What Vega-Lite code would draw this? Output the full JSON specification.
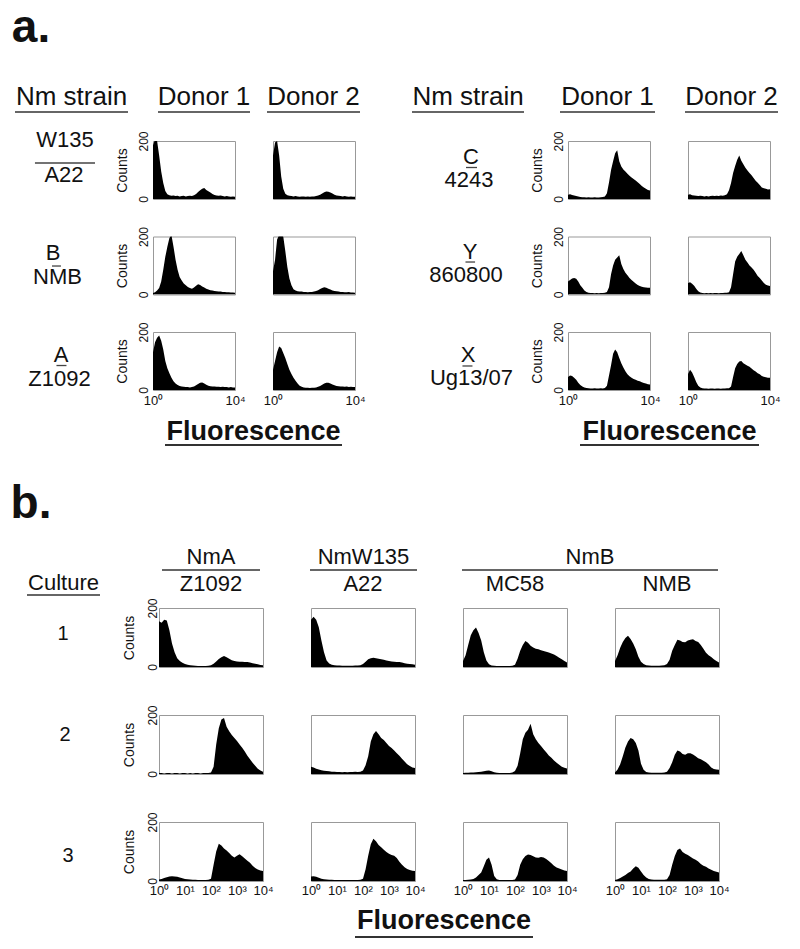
{
"$schema": "https://vega.github.io/schema/vega-lite/v6.json",
"background": "white",
"padding": 0,
"spacing": 0,
"config": {"view": {"stroke": null}, "font": "Liberation Sans", "text": {"font": "Liberation Sans", "color": "#111"}, "rule": {"color": "#333"}, "axis": {"labelFont": "Liberation Sans", "titleFont": "Liberation Sans", "labelColor": "#111", "titleColor": "#111", "grid": false, "ticks": false, "domain": false}},
"datasets": {
"a_W135_D1": [{"fl":0,"count":185},{"fl":0.1,"count":205},{"fl":0.2,"count":200},{"fl":0.3,"count":150},{"fl":0.4,"count":95},{"fl":0.5,"count":55},{"fl":0.6,"count":28},{"fl":0.7,"count":16},{"fl":0.8,"count":13},{"fl":0.9,"count":11},{"fl":1,"count":12},{"fl":1.1,"count":10},{"fl":1.2,"count":11},{"fl":1.3,"count":9},{"fl":1.4,"count":10},{"fl":1.5,"count":11},{"fl":1.6,"count":9},{"fl":1.7,"count":10},{"fl":1.8,"count":11},{"fl":1.9,"count":10},{"fl":2,"count":13},{"fl":2.1,"count":17},{"fl":2.2,"count":24},{"fl":2.3,"count":30},{"fl":2.4,"count":35},{"fl":2.5,"count":38},{"fl":2.6,"count":31},{"fl":2.7,"count":27},{"fl":2.8,"count":22},{"fl":2.9,"count":17},{"fl":3,"count":14},{"fl":3.1,"count":12},{"fl":3.2,"count":11},{"fl":3.3,"count":12},{"fl":3.4,"count":10},{"fl":3.5,"count":9},{"fl":3.6,"count":10},{"fl":3.7,"count":9},{"fl":3.8,"count":8},{"fl":3.9,"count":9},{"fl":4,"count":8}],
"a_W135_D2": [{"fl":0,"count":150},{"fl":0.1,"count":195},{"fl":0.2,"count":200},{"fl":0.3,"count":150},{"fl":0.4,"count":78},{"fl":0.5,"count":35},{"fl":0.6,"count":18},{"fl":0.7,"count":13},{"fl":0.8,"count":11},{"fl":0.9,"count":10},{"fl":1,"count":9},{"fl":1.1,"count":10},{"fl":1.2,"count":9},{"fl":1.3,"count":8},{"fl":1.4,"count":9},{"fl":1.5,"count":9},{"fl":1.6,"count":8},{"fl":1.7,"count":9},{"fl":1.8,"count":8},{"fl":1.9,"count":9},{"fl":2,"count":9},{"fl":2.1,"count":10},{"fl":2.2,"count":12},{"fl":2.3,"count":15},{"fl":2.4,"count":19},{"fl":2.5,"count":23},{"fl":2.6,"count":26},{"fl":2.7,"count":25},{"fl":2.8,"count":22},{"fl":2.9,"count":19},{"fl":3,"count":15},{"fl":3.1,"count":12},{"fl":3.2,"count":11},{"fl":3.3,"count":10},{"fl":3.4,"count":9},{"fl":3.5,"count":10},{"fl":3.6,"count":9},{"fl":3.7,"count":8},{"fl":3.8,"count":9},{"fl":3.9,"count":8},{"fl":4,"count":8}],
"a_NMB_D1": [{"fl":0,"count":5},{"fl":0.1,"count":8},{"fl":0.2,"count":14},{"fl":0.3,"count":22},{"fl":0.4,"count":45},{"fl":0.5,"count":85},{"fl":0.6,"count":130},{"fl":0.7,"count":165},{"fl":0.8,"count":195},{"fl":0.9,"count":205},{"fl":1,"count":165},{"fl":1.1,"count":120},{"fl":1.2,"count":85},{"fl":1.3,"count":60},{"fl":1.4,"count":48},{"fl":1.5,"count":38},{"fl":1.6,"count":32},{"fl":1.7,"count":26},{"fl":1.8,"count":22},{"fl":1.9,"count":20},{"fl":2,"count":24},{"fl":2.1,"count":30},{"fl":2.2,"count":35},{"fl":2.3,"count":33},{"fl":2.4,"count":28},{"fl":2.5,"count":24},{"fl":2.6,"count":20},{"fl":2.7,"count":17},{"fl":2.8,"count":15},{"fl":2.9,"count":14},{"fl":3,"count":12},{"fl":3.1,"count":11},{"fl":3.2,"count":10},{"fl":3.3,"count":10},{"fl":3.4,"count":9},{"fl":3.5,"count":9},{"fl":3.6,"count":8},{"fl":3.7,"count":8},{"fl":3.8,"count":7},{"fl":3.9,"count":7},{"fl":4,"count":6}],
"a_NMB_D2": [{"fl":0,"count":80},{"fl":0.1,"count":120},{"fl":0.2,"count":190},{"fl":0.3,"count":205},{"fl":0.4,"count":205},{"fl":0.5,"count":200},{"fl":0.6,"count":150},{"fl":0.7,"count":95},{"fl":0.8,"count":55},{"fl":0.9,"count":32},{"fl":1,"count":18},{"fl":1.1,"count":14},{"fl":1.2,"count":11},{"fl":1.3,"count":10},{"fl":1.4,"count":10},{"fl":1.5,"count":9},{"fl":1.6,"count":9},{"fl":1.7,"count":8},{"fl":1.8,"count":9},{"fl":1.9,"count":9},{"fl":2,"count":10},{"fl":2.1,"count":12},{"fl":2.2,"count":15},{"fl":2.3,"count":19},{"fl":2.4,"count":22},{"fl":2.5,"count":25},{"fl":2.6,"count":23},{"fl":2.7,"count":20},{"fl":2.8,"count":17},{"fl":2.9,"count":14},{"fl":3,"count":12},{"fl":3.1,"count":11},{"fl":3.2,"count":10},{"fl":3.3,"count":9},{"fl":3.4,"count":9},{"fl":3.5,"count":8},{"fl":3.6,"count":8},{"fl":3.7,"count":9},{"fl":3.8,"count":7},{"fl":3.9,"count":7},{"fl":4,"count":6}],
"a_Z1092_D1": [{"fl":0,"count":130},{"fl":0.1,"count":165},{"fl":0.2,"count":180},{"fl":0.3,"count":188},{"fl":0.4,"count":170},{"fl":0.5,"count":140},{"fl":0.6,"count":100},{"fl":0.7,"count":75},{"fl":0.8,"count":58},{"fl":0.9,"count":42},{"fl":1,"count":30},{"fl":1.1,"count":22},{"fl":1.2,"count":17},{"fl":1.3,"count":14},{"fl":1.4,"count":12},{"fl":1.5,"count":11},{"fl":1.6,"count":10},{"fl":1.7,"count":10},{"fl":1.8,"count":9},{"fl":1.9,"count":10},{"fl":2,"count":12},{"fl":2.1,"count":16},{"fl":2.2,"count":21},{"fl":2.3,"count":25},{"fl":2.4,"count":26},{"fl":2.5,"count":22},{"fl":2.6,"count":18},{"fl":2.7,"count":15},{"fl":2.8,"count":13},{"fl":2.9,"count":12},{"fl":3,"count":12},{"fl":3.1,"count":11},{"fl":3.2,"count":11},{"fl":3.3,"count":10},{"fl":3.4,"count":11},{"fl":3.5,"count":10},{"fl":3.6,"count":10},{"fl":3.7,"count":9},{"fl":3.8,"count":10},{"fl":3.9,"count":9},{"fl":4,"count":9}],
"a_Z1092_D2": [{"fl":0,"count":70},{"fl":0.1,"count":100},{"fl":0.2,"count":130},{"fl":0.3,"count":150},{"fl":0.4,"count":145},{"fl":0.5,"count":128},{"fl":0.6,"count":110},{"fl":0.7,"count":90},{"fl":0.8,"count":70},{"fl":0.9,"count":55},{"fl":1,"count":42},{"fl":1.1,"count":32},{"fl":1.2,"count":22},{"fl":1.3,"count":15},{"fl":1.4,"count":11},{"fl":1.5,"count":9},{"fl":1.6,"count":8},{"fl":1.7,"count":8},{"fl":1.8,"count":7},{"fl":1.9,"count":8},{"fl":2,"count":8},{"fl":2.1,"count":9},{"fl":2.2,"count":11},{"fl":2.3,"count":14},{"fl":2.4,"count":18},{"fl":2.5,"count":22},{"fl":2.6,"count":25},{"fl":2.7,"count":25},{"fl":2.8,"count":22},{"fl":2.9,"count":19},{"fl":3,"count":16},{"fl":3.1,"count":14},{"fl":3.2,"count":13},{"fl":3.3,"count":12},{"fl":3.4,"count":12},{"fl":3.5,"count":11},{"fl":3.6,"count":12},{"fl":3.7,"count":10},{"fl":3.8,"count":11},{"fl":3.9,"count":10},{"fl":4,"count":10}],
"a_4243_D1": [{"fl":0,"count":15},{"fl":0.1,"count":16},{"fl":0.2,"count":14},{"fl":0.3,"count":12},{"fl":0.4,"count":10},{"fl":0.5,"count":9},{"fl":0.6,"count":7},{"fl":0.7,"count":6},{"fl":0.8,"count":6},{"fl":0.9,"count":5},{"fl":1,"count":6},{"fl":1.1,"count":5},{"fl":1.2,"count":5},{"fl":1.3,"count":6},{"fl":1.4,"count":5},{"fl":1.5,"count":5},{"fl":1.6,"count":6},{"fl":1.7,"count":7},{"fl":1.8,"count":9},{"fl":1.9,"count":20},{"fl":2,"count":57},{"fl":2.1,"count":100},{"fl":2.2,"count":130},{"fl":2.3,"count":158},{"fl":2.4,"count":168},{"fl":2.5,"count":130},{"fl":2.6,"count":112},{"fl":2.7,"count":102},{"fl":2.8,"count":95},{"fl":2.9,"count":87},{"fl":3,"count":80},{"fl":3.1,"count":74},{"fl":3.2,"count":69},{"fl":3.3,"count":64},{"fl":3.4,"count":58},{"fl":3.5,"count":52},{"fl":3.6,"count":45},{"fl":3.7,"count":40},{"fl":3.8,"count":35},{"fl":3.9,"count":31},{"fl":4,"count":29}],
"a_4243_D2": [{"fl":0,"count":15},{"fl":0.1,"count":16},{"fl":0.2,"count":13},{"fl":0.3,"count":12},{"fl":0.4,"count":11},{"fl":0.5,"count":10},{"fl":0.6,"count":11},{"fl":0.7,"count":10},{"fl":0.8,"count":9},{"fl":0.9,"count":10},{"fl":1,"count":9},{"fl":1.1,"count":10},{"fl":1.2,"count":11},{"fl":1.3,"count":10},{"fl":1.4,"count":11},{"fl":1.5,"count":10},{"fl":1.6,"count":12},{"fl":1.7,"count":11},{"fl":1.8,"count":13},{"fl":1.9,"count":16},{"fl":2,"count":30},{"fl":2.1,"count":55},{"fl":2.2,"count":90},{"fl":2.3,"count":114},{"fl":2.4,"count":135},{"fl":2.5,"count":150},{"fl":2.6,"count":132},{"fl":2.7,"count":120},{"fl":2.8,"count":108},{"fl":2.9,"count":98},{"fl":3,"count":90},{"fl":3.1,"count":82},{"fl":3.2,"count":72},{"fl":3.3,"count":63},{"fl":3.4,"count":56},{"fl":3.5,"count":48},{"fl":3.6,"count":40},{"fl":3.7,"count":37},{"fl":3.8,"count":35},{"fl":3.9,"count":33},{"fl":4,"count":34}],
"a_860800_D1": [{"fl":0,"count":45},{"fl":0.1,"count":50},{"fl":0.2,"count":55},{"fl":0.3,"count":57},{"fl":0.4,"count":54},{"fl":0.5,"count":45},{"fl":0.6,"count":32},{"fl":0.7,"count":23},{"fl":0.8,"count":14},{"fl":0.9,"count":9},{"fl":1,"count":6},{"fl":1.1,"count":5},{"fl":1.2,"count":5},{"fl":1.3,"count":4},{"fl":1.4,"count":5},{"fl":1.5,"count":4},{"fl":1.6,"count":5},{"fl":1.7,"count":5},{"fl":1.8,"count":6},{"fl":1.9,"count":9},{"fl":2,"count":25},{"fl":2.1,"count":70},{"fl":2.2,"count":100},{"fl":2.3,"count":120},{"fl":2.4,"count":128},{"fl":2.5,"count":135},{"fl":2.6,"count":105},{"fl":2.7,"count":88},{"fl":2.8,"count":75},{"fl":2.9,"count":66},{"fl":3,"count":57},{"fl":3.1,"count":50},{"fl":3.2,"count":44},{"fl":3.3,"count":38},{"fl":3.4,"count":33},{"fl":3.5,"count":29},{"fl":3.6,"count":27},{"fl":3.7,"count":25},{"fl":3.8,"count":24},{"fl":3.9,"count":23},{"fl":4,"count":23}],
"a_860800_D2": [{"fl":0,"count":40},{"fl":0.1,"count":42},{"fl":0.2,"count":37},{"fl":0.3,"count":30},{"fl":0.4,"count":20},{"fl":0.5,"count":11},{"fl":0.6,"count":7},{"fl":0.7,"count":5},{"fl":0.8,"count":4},{"fl":0.9,"count":5},{"fl":1,"count":4},{"fl":1.1,"count":5},{"fl":1.2,"count":4},{"fl":1.3,"count":5},{"fl":1.4,"count":5},{"fl":1.5,"count":4},{"fl":1.6,"count":5},{"fl":1.7,"count":5},{"fl":1.8,"count":6},{"fl":1.9,"count":6},{"fl":2,"count":8},{"fl":2.1,"count":25},{"fl":2.2,"count":70},{"fl":2.3,"count":114},{"fl":2.4,"count":130},{"fl":2.5,"count":140},{"fl":2.6,"count":150},{"fl":2.7,"count":135},{"fl":2.8,"count":120},{"fl":2.9,"count":110},{"fl":3,"count":100},{"fl":3.1,"count":93},{"fl":3.2,"count":85},{"fl":3.3,"count":75},{"fl":3.4,"count":64},{"fl":3.5,"count":57},{"fl":3.6,"count":48},{"fl":3.7,"count":40},{"fl":3.8,"count":34},{"fl":3.9,"count":31},{"fl":4,"count":29}],
"a_Ug13_D1": [{"fl":0,"count":45},{"fl":0.1,"count":50},{"fl":0.2,"count":48},{"fl":0.3,"count":42},{"fl":0.4,"count":35},{"fl":0.5,"count":25},{"fl":0.6,"count":17},{"fl":0.7,"count":12},{"fl":0.8,"count":9},{"fl":0.9,"count":7},{"fl":1,"count":6},{"fl":1.1,"count":5},{"fl":1.2,"count":5},{"fl":1.3,"count":6},{"fl":1.4,"count":5},{"fl":1.5,"count":5},{"fl":1.6,"count":6},{"fl":1.7,"count":5},{"fl":1.8,"count":7},{"fl":1.9,"count":15},{"fl":2,"count":50},{"fl":2.1,"count":85},{"fl":2.2,"count":125},{"fl":2.3,"count":140},{"fl":2.4,"count":130},{"fl":2.5,"count":110},{"fl":2.6,"count":92},{"fl":2.7,"count":78},{"fl":2.8,"count":65},{"fl":2.9,"count":54},{"fl":3,"count":47},{"fl":3.1,"count":42},{"fl":3.2,"count":38},{"fl":3.3,"count":35},{"fl":3.4,"count":32},{"fl":3.5,"count":30},{"fl":3.6,"count":27},{"fl":3.7,"count":24},{"fl":3.8,"count":22},{"fl":3.9,"count":20},{"fl":4,"count":19}],
"a_Ug13_D2": [{"fl":0,"count":55},{"fl":0.1,"count":70},{"fl":0.2,"count":60},{"fl":0.3,"count":45},{"fl":0.4,"count":28},{"fl":0.5,"count":15},{"fl":0.6,"count":9},{"fl":0.7,"count":6},{"fl":0.8,"count":5},{"fl":0.9,"count":5},{"fl":1,"count":4},{"fl":1.1,"count":5},{"fl":1.2,"count":5},{"fl":1.3,"count":4},{"fl":1.4,"count":5},{"fl":1.5,"count":5},{"fl":1.6,"count":4},{"fl":1.7,"count":5},{"fl":1.8,"count":5},{"fl":1.9,"count":6},{"fl":2,"count":6},{"fl":2.1,"count":12},{"fl":2.2,"count":45},{"fl":2.3,"count":75},{"fl":2.4,"count":90},{"fl":2.5,"count":98},{"fl":2.6,"count":100},{"fl":2.7,"count":92},{"fl":2.8,"count":88},{"fl":2.9,"count":84},{"fl":3,"count":80},{"fl":3.1,"count":74},{"fl":3.2,"count":68},{"fl":3.3,"count":64},{"fl":3.4,"count":58},{"fl":3.5,"count":54},{"fl":3.6,"count":48},{"fl":3.7,"count":46},{"fl":3.8,"count":44},{"fl":3.9,"count":42},{"fl":4,"count":42}],
"b_Z1092_c1": [{"fl":0,"count":155},{"fl":0.1,"count":150},{"fl":0.2,"count":160},{"fl":0.3,"count":158},{"fl":0.4,"count":125},{"fl":0.5,"count":80},{"fl":0.6,"count":50},{"fl":0.7,"count":30},{"fl":0.8,"count":20},{"fl":0.9,"count":14},{"fl":1,"count":10},{"fl":1.1,"count":8},{"fl":1.2,"count":6},{"fl":1.3,"count":5},{"fl":1.4,"count":4},{"fl":1.5,"count":3},{"fl":1.6,"count":3},{"fl":1.7,"count":3},{"fl":1.8,"count":3},{"fl":1.9,"count":4},{"fl":2,"count":6},{"fl":2.1,"count":11},{"fl":2.2,"count":19},{"fl":2.3,"count":27},{"fl":2.4,"count":33},{"fl":2.5,"count":37},{"fl":2.6,"count":33},{"fl":2.7,"count":28},{"fl":2.8,"count":23},{"fl":2.9,"count":20},{"fl":3,"count":19},{"fl":3.1,"count":18},{"fl":3.2,"count":18},{"fl":3.3,"count":17},{"fl":3.4,"count":17},{"fl":3.5,"count":15},{"fl":3.6,"count":13},{"fl":3.7,"count":11},{"fl":3.8,"count":9},{"fl":3.9,"count":7},{"fl":4,"count":6}],
"b_A22_c1": [{"fl":0,"count":160},{"fl":0.1,"count":170},{"fl":0.2,"count":160},{"fl":0.3,"count":135},{"fl":0.4,"count":90},{"fl":0.5,"count":50},{"fl":0.6,"count":22},{"fl":0.7,"count":12},{"fl":0.8,"count":8},{"fl":0.9,"count":6},{"fl":1,"count":5},{"fl":1.1,"count":5},{"fl":1.2,"count":4},{"fl":1.3,"count":4},{"fl":1.4,"count":4},{"fl":1.5,"count":4},{"fl":1.6,"count":4},{"fl":1.7,"count":5},{"fl":1.8,"count":5},{"fl":1.9,"count":6},{"fl":2,"count":10},{"fl":2.1,"count":18},{"fl":2.2,"count":26},{"fl":2.3,"count":30},{"fl":2.4,"count":31},{"fl":2.5,"count":30},{"fl":2.6,"count":28},{"fl":2.7,"count":26},{"fl":2.8,"count":25},{"fl":2.9,"count":22},{"fl":3,"count":20},{"fl":3.1,"count":19},{"fl":3.2,"count":18},{"fl":3.3,"count":17},{"fl":3.4,"count":17},{"fl":3.5,"count":15},{"fl":3.6,"count":13},{"fl":3.7,"count":11},{"fl":3.8,"count":10},{"fl":3.9,"count":9},{"fl":4,"count":8}],
"b_MC58_c1": [{"fl":0,"count":20},{"fl":0.1,"count":40},{"fl":0.2,"count":75},{"fl":0.3,"count":108},{"fl":0.4,"count":125},{"fl":0.5,"count":134},{"fl":0.6,"count":115},{"fl":0.7,"count":90},{"fl":0.8,"count":50},{"fl":0.9,"count":22},{"fl":1,"count":9},{"fl":1.1,"count":5},{"fl":1.2,"count":4},{"fl":1.3,"count":3},{"fl":1.4,"count":3},{"fl":1.5,"count":3},{"fl":1.6,"count":3},{"fl":1.7,"count":3},{"fl":1.8,"count":3},{"fl":1.9,"count":4},{"fl":2,"count":8},{"fl":2.1,"count":28},{"fl":2.2,"count":55},{"fl":2.3,"count":75},{"fl":2.4,"count":88},{"fl":2.5,"count":82},{"fl":2.6,"count":72},{"fl":2.7,"count":66},{"fl":2.8,"count":62},{"fl":2.9,"count":60},{"fl":3,"count":57},{"fl":3.1,"count":54},{"fl":3.2,"count":52},{"fl":3.3,"count":49},{"fl":3.4,"count":46},{"fl":3.5,"count":42},{"fl":3.6,"count":37},{"fl":3.7,"count":31},{"fl":3.8,"count":26},{"fl":3.9,"count":20},{"fl":4,"count":15}],
"b_NMB_c1": [{"fl":0,"count":20},{"fl":0.1,"count":40},{"fl":0.2,"count":65},{"fl":0.3,"count":85},{"fl":0.4,"count":98},{"fl":0.5,"count":106},{"fl":0.6,"count":95},{"fl":0.7,"count":80},{"fl":0.8,"count":60},{"fl":0.9,"count":35},{"fl":1,"count":18},{"fl":1.1,"count":10},{"fl":1.2,"count":6},{"fl":1.3,"count":5},{"fl":1.4,"count":4},{"fl":1.5,"count":4},{"fl":1.6,"count":4},{"fl":1.7,"count":4},{"fl":1.8,"count":5},{"fl":1.9,"count":6},{"fl":2,"count":10},{"fl":2.1,"count":25},{"fl":2.2,"count":55},{"fl":2.3,"count":75},{"fl":2.4,"count":92},{"fl":2.5,"count":90},{"fl":2.6,"count":85},{"fl":2.7,"count":84},{"fl":2.8,"count":90},{"fl":2.9,"count":92},{"fl":3,"count":94},{"fl":3.1,"count":88},{"fl":3.2,"count":85},{"fl":3.3,"count":75},{"fl":3.4,"count":62},{"fl":3.5,"count":48},{"fl":3.6,"count":40},{"fl":3.7,"count":34},{"fl":3.8,"count":26},{"fl":3.9,"count":20},{"fl":4,"count":15}],
"b_Z1092_c2": [{"fl":0,"count":3},{"fl":0.1,"count":3},{"fl":0.2,"count":2},{"fl":0.3,"count":3},{"fl":0.4,"count":3},{"fl":0.5,"count":2},{"fl":0.6,"count":3},{"fl":0.7,"count":3},{"fl":0.8,"count":2},{"fl":0.9,"count":3},{"fl":1,"count":3},{"fl":1.1,"count":2},{"fl":1.2,"count":3},{"fl":1.3,"count":2},{"fl":1.4,"count":3},{"fl":1.5,"count":3},{"fl":1.6,"count":2},{"fl":1.7,"count":3},{"fl":1.8,"count":3},{"fl":1.9,"count":3},{"fl":2,"count":5},{"fl":2.1,"count":25},{"fl":2.2,"count":100},{"fl":2.3,"count":155},{"fl":2.4,"count":185},{"fl":2.5,"count":190},{"fl":2.6,"count":160},{"fl":2.7,"count":145},{"fl":2.8,"count":132},{"fl":2.9,"count":122},{"fl":3,"count":112},{"fl":3.1,"count":100},{"fl":3.2,"count":89},{"fl":3.3,"count":76},{"fl":3.4,"count":62},{"fl":3.5,"count":50},{"fl":3.6,"count":38},{"fl":3.7,"count":28},{"fl":3.8,"count":18},{"fl":3.9,"count":12},{"fl":4,"count":8}],
"b_A22_c2": [{"fl":0,"count":25},{"fl":0.1,"count":22},{"fl":0.2,"count":18},{"fl":0.3,"count":15},{"fl":0.4,"count":13},{"fl":0.5,"count":11},{"fl":0.6,"count":10},{"fl":0.7,"count":9},{"fl":0.8,"count":8},{"fl":0.9,"count":8},{"fl":1,"count":7},{"fl":1.1,"count":7},{"fl":1.2,"count":6},{"fl":1.3,"count":7},{"fl":1.4,"count":6},{"fl":1.5,"count":7},{"fl":1.6,"count":7},{"fl":1.7,"count":8},{"fl":1.8,"count":7},{"fl":1.9,"count":8},{"fl":2,"count":12},{"fl":2.1,"count":30},{"fl":2.2,"count":60},{"fl":2.3,"count":110},{"fl":2.4,"count":135},{"fl":2.5,"count":146},{"fl":2.6,"count":135},{"fl":2.7,"count":122},{"fl":2.8,"count":115},{"fl":2.9,"count":105},{"fl":3,"count":95},{"fl":3.1,"count":88},{"fl":3.2,"count":80},{"fl":3.3,"count":70},{"fl":3.4,"count":62},{"fl":3.5,"count":52},{"fl":3.6,"count":42},{"fl":3.7,"count":33},{"fl":3.8,"count":27},{"fl":3.9,"count":22},{"fl":4,"count":20}],
"b_MC58_c2": [{"fl":0,"count":3},{"fl":0.1,"count":4},{"fl":0.2,"count":4},{"fl":0.3,"count":5},{"fl":0.4,"count":5},{"fl":0.5,"count":6},{"fl":0.6,"count":7},{"fl":0.7,"count":8},{"fl":0.8,"count":9},{"fl":0.9,"count":11},{"fl":1,"count":12},{"fl":1.1,"count":9},{"fl":1.2,"count":6},{"fl":1.3,"count":4},{"fl":1.4,"count":3},{"fl":1.5,"count":3},{"fl":1.6,"count":3},{"fl":1.7,"count":3},{"fl":1.8,"count":3},{"fl":1.9,"count":5},{"fl":2,"count":10},{"fl":2.1,"count":28},{"fl":2.2,"count":70},{"fl":2.3,"count":118},{"fl":2.4,"count":140},{"fl":2.5,"count":150},{"fl":2.6,"count":170},{"fl":2.7,"count":135},{"fl":2.8,"count":118},{"fl":2.9,"count":105},{"fl":3,"count":95},{"fl":3.1,"count":84},{"fl":3.2,"count":74},{"fl":3.3,"count":63},{"fl":3.4,"count":55},{"fl":3.5,"count":46},{"fl":3.6,"count":38},{"fl":3.7,"count":31},{"fl":3.8,"count":25},{"fl":3.9,"count":21},{"fl":4,"count":19}],
"b_NMB_c2": [{"fl":0,"count":5},{"fl":0.1,"count":15},{"fl":0.2,"count":33},{"fl":0.3,"count":60},{"fl":0.4,"count":90},{"fl":0.5,"count":110},{"fl":0.6,"count":122},{"fl":0.7,"count":118},{"fl":0.8,"count":105},{"fl":0.9,"count":80},{"fl":1,"count":35},{"fl":1.1,"count":14},{"fl":1.2,"count":7},{"fl":1.3,"count":5},{"fl":1.4,"count":4},{"fl":1.5,"count":4},{"fl":1.6,"count":4},{"fl":1.7,"count":4},{"fl":1.8,"count":4},{"fl":1.9,"count":5},{"fl":2,"count":8},{"fl":2.1,"count":20},{"fl":2.2,"count":40},{"fl":2.3,"count":65},{"fl":2.4,"count":80},{"fl":2.5,"count":76},{"fl":2.6,"count":68},{"fl":2.7,"count":65},{"fl":2.8,"count":70},{"fl":2.9,"count":70},{"fl":3,"count":66},{"fl":3.1,"count":60},{"fl":3.2,"count":53},{"fl":3.3,"count":50},{"fl":3.4,"count":45},{"fl":3.5,"count":40},{"fl":3.6,"count":32},{"fl":3.7,"count":22},{"fl":3.8,"count":17},{"fl":3.9,"count":15},{"fl":4,"count":14}],
"b_Z1092_c3": [{"fl":0,"count":5},{"fl":0.1,"count":7},{"fl":0.2,"count":10},{"fl":0.3,"count":13},{"fl":0.4,"count":15},{"fl":0.5,"count":16},{"fl":0.6,"count":15},{"fl":0.7,"count":14},{"fl":0.8,"count":12},{"fl":0.9,"count":9},{"fl":1,"count":7},{"fl":1.1,"count":6},{"fl":1.2,"count":5},{"fl":1.3,"count":4},{"fl":1.4,"count":4},{"fl":1.5,"count":3},{"fl":1.6,"count":3},{"fl":1.7,"count":3},{"fl":1.8,"count":3},{"fl":1.9,"count":4},{"fl":2,"count":8},{"fl":2.1,"count":55},{"fl":2.2,"count":100},{"fl":2.3,"count":126},{"fl":2.4,"count":120},{"fl":2.5,"count":110},{"fl":2.6,"count":103},{"fl":2.7,"count":95},{"fl":2.8,"count":86},{"fl":2.9,"count":80},{"fl":3,"count":86},{"fl":3.1,"count":91},{"fl":3.2,"count":84},{"fl":3.3,"count":76},{"fl":3.4,"count":69},{"fl":3.5,"count":62},{"fl":3.6,"count":52},{"fl":3.7,"count":44},{"fl":3.8,"count":39},{"fl":3.9,"count":36},{"fl":4,"count":34}],
"b_A22_c3": [{"fl":0,"count":15},{"fl":0.1,"count":16},{"fl":0.2,"count":14},{"fl":0.3,"count":11},{"fl":0.4,"count":8},{"fl":0.5,"count":6},{"fl":0.6,"count":5},{"fl":0.7,"count":4},{"fl":0.8,"count":4},{"fl":0.9,"count":3},{"fl":1,"count":3},{"fl":1.1,"count":3},{"fl":1.2,"count":3},{"fl":1.3,"count":3},{"fl":1.4,"count":3},{"fl":1.5,"count":3},{"fl":1.6,"count":3},{"fl":1.7,"count":3},{"fl":1.8,"count":3},{"fl":1.9,"count":4},{"fl":2,"count":8},{"fl":2.1,"count":40},{"fl":2.2,"count":86},{"fl":2.3,"count":125},{"fl":2.4,"count":143},{"fl":2.5,"count":135},{"fl":2.6,"count":122},{"fl":2.7,"count":114},{"fl":2.8,"count":106},{"fl":2.9,"count":98},{"fl":3,"count":92},{"fl":3.1,"count":88},{"fl":3.2,"count":86},{"fl":3.3,"count":78},{"fl":3.4,"count":65},{"fl":3.5,"count":55},{"fl":3.6,"count":47},{"fl":3.7,"count":41},{"fl":3.8,"count":37},{"fl":3.9,"count":35},{"fl":4,"count":34}],
"b_MC58_c3": [{"fl":0,"count":3},{"fl":0.1,"count":3},{"fl":0.2,"count":4},{"fl":0.3,"count":5},{"fl":0.4,"count":7},{"fl":0.5,"count":12},{"fl":0.6,"count":20},{"fl":0.7,"count":29},{"fl":0.8,"count":50},{"fl":0.9,"count":72},{"fl":1,"count":80},{"fl":1.1,"count":55},{"fl":1.2,"count":17},{"fl":1.3,"count":6},{"fl":1.4,"count":3},{"fl":1.5,"count":3},{"fl":1.6,"count":3},{"fl":1.7,"count":3},{"fl":1.8,"count":3},{"fl":1.9,"count":3},{"fl":2,"count":5},{"fl":2.1,"count":20},{"fl":2.2,"count":55},{"fl":2.3,"count":74},{"fl":2.4,"count":85},{"fl":2.5,"count":90},{"fl":2.6,"count":88},{"fl":2.7,"count":84},{"fl":2.8,"count":80},{"fl":2.9,"count":79},{"fl":3,"count":81},{"fl":3.1,"count":80},{"fl":3.2,"count":75},{"fl":3.3,"count":68},{"fl":3.4,"count":60},{"fl":3.5,"count":52},{"fl":3.6,"count":46},{"fl":3.7,"count":42},{"fl":3.8,"count":39},{"fl":3.9,"count":36},{"fl":4,"count":34}],
"b_NMB_c3": [{"fl":0,"count":3},{"fl":0.1,"count":6},{"fl":0.2,"count":10},{"fl":0.3,"count":15},{"fl":0.4,"count":20},{"fl":0.5,"count":27},{"fl":0.6,"count":32},{"fl":0.7,"count":42},{"fl":0.8,"count":50},{"fl":0.9,"count":45},{"fl":1,"count":32},{"fl":1.1,"count":20},{"fl":1.2,"count":12},{"fl":1.3,"count":7},{"fl":1.4,"count":5},{"fl":1.5,"count":4},{"fl":1.6,"count":4},{"fl":1.7,"count":4},{"fl":1.8,"count":4},{"fl":1.9,"count":4},{"fl":2,"count":6},{"fl":2.1,"count":20},{"fl":2.2,"count":55},{"fl":2.3,"count":85},{"fl":2.4,"count":105},{"fl":2.5,"count":110},{"fl":2.6,"count":98},{"fl":2.7,"count":92},{"fl":2.8,"count":88},{"fl":2.9,"count":82},{"fl":3,"count":76},{"fl":3.1,"count":72},{"fl":3.2,"count":66},{"fl":3.3,"count":58},{"fl":3.4,"count":52},{"fl":3.5,"count":48},{"fl":3.6,"count":42},{"fl":3.7,"count":38},{"fl":3.8,"count":34},{"fl":3.9,"count":31},{"fl":4,"count":29}]
},
"vconcat": [
{"width": 62, "height": 52, "data": {"values": [{"label": "a."}]}, "mark": {"type": "text", "fontSize": 46, "fontWeight": "bold", "baseline": "alphabetic", "dy": 16}, "encoding": {"text": {"field": "label"}}},
{"spacing": 0, "bounds": "flush", "hconcat": [
 {"width": 15, "height": 60, "mark": "text", "encoding": {"text": {"value": ""}}},
 {"width": 113, "height": 60, "data": {"values": [{"label": "Nm strain"}]}, "layer": [{"mark": {"type": "text", "fontSize": 26, "baseline": "alphabetic", "dy": 23}, "encoding": {"text": {"field": "label"}}}, {"mark": {"type": "rule", "strokeWidth": 1.5}, "encoding": {"y": {"value": "height"}}}]},
 {"width": 30, "height": 60, "mark": "text", "encoding": {"text": {"value": ""}}},
 {"width": 92, "height": 60, "data": {"values": [{"label": "Donor 1"}]}, "layer": [{"mark": {"type": "text", "fontSize": 26, "baseline": "alphabetic", "dy": 23}, "encoding": {"text": {"field": "label"}}}, {"mark": {"type": "rule", "strokeWidth": 1.5}, "encoding": {"y": {"value": "height"}}}]},
 {"width": 17, "height": 60, "mark": "text", "encoding": {"text": {"value": ""}}},
 {"width": 93, "height": 60, "data": {"values": [{"label": "Donor 2"}]}, "layer": [{"mark": {"type": "text", "fontSize": 26, "baseline": "alphabetic", "dy": 23}, "encoding": {"text": {"field": "label"}}}, {"mark": {"type": "rule", "strokeWidth": 1.5}, "encoding": {"y": {"value": "height"}}}]},
 {"width": 52, "height": 60, "mark": "text", "encoding": {"text": {"value": ""}}},
 {"width": 112, "height": 60, "data": {"values": [{"label": "Nm strain"}]}, "layer": [{"mark": {"type": "text", "fontSize": 26, "baseline": "alphabetic", "dy": 23}, "encoding": {"text": {"field": "label"}}}, {"mark": {"type": "rule", "strokeWidth": 1.5}, "encoding": {"y": {"value": "height"}}}]},
 {"width": 36, "height": 60, "mark": "text", "encoding": {"text": {"value": ""}}},
 {"width": 95, "height": 60, "data": {"values": [{"label": "Donor 1"}]}, "layer": [{"mark": {"type": "text", "fontSize": 26, "baseline": "alphabetic", "dy": 23}, "encoding": {"text": {"field": "label"}}}, {"mark": {"type": "rule", "strokeWidth": 1.5}, "encoding": {"y": {"value": "height"}}}]},
 {"width": 30, "height": 60, "mark": "text", "encoding": {"text": {"value": ""}}},
 {"width": 93, "height": 60, "data": {"values": [{"label": "Donor 2"}]}, "layer": [{"mark": {"type": "text", "fontSize": 26, "baseline": "alphabetic", "dy": 23}, "encoding": {"text": {"field": "label"}}}, {"mark": {"type": "rule", "strokeWidth": 1.5}, "encoding": {"y": {"value": "height"}}}]}
]},
{"width": 1, "height": 16, "mark": "text", "encoding": {"text": {"value": ""}}},
{"columns": 6, "spacing": {"row": 37.5, "column": 38}, "bounds": "flush", "align": "each", "concat": [
 {"width": 115, "height": 58, "data": {"values": [{"serogroup": "W135", "strain": "A22"}]}, "layer": [
  {"mark": {"type": "text", "fontSize": 22, "baseline": "alphabetic", "dx": 7.5, "dy": -23}, "encoding": {"text": {"field": "serogroup"}}},
  {"mark": {"type": "rule", "strokeWidth": 1.3, "color": "#444"}, "encoding": {"x": {"datum": 0.304, "scale": {"domain": [0, 1]}, "axis": null}, "x2": {"datum": 0.826}, "y": {"datum": 0.621, "scale": {"domain": [0, 1]}, "axis": null}}},
  {"mark": {"type": "text", "fontSize": 22, "baseline": "alphabetic", "dx": 6.5, "dy": 12}, "encoding": {"text": {"field": "strain"}}}]},
 {"width": 82, "height": 58, "view": {"stroke": "#999"}, "data": {"name": "a_W135_D1"}, "mark": {"type": "area", "color": "#000", "clip": true}, "encoding": {"x": {"field": "fl", "type": "quantitative", "scale": {"domain": [0, 4], "nice": false}, "axis": null}, "y": {"field": "count", "type": "quantitative", "scale": {"domain": [0, 200], "nice": false}, "axis": {"title": "Counts", "values": [0, 200], "labelAngle": 270, "labelAlign": "center", "labelBaseline": "alphabetic", "labelPadding": 6, "labelFontSize": 12, "titleFontSize": 14, "titleFontWeight": "normal", "titlePadding": 8}}}},
 {"width": 82, "height": 58, "view": {"stroke": "#999"}, "data": {"name": "a_W135_D2"}, "mark": {"type": "area", "color": "#000", "clip": true}, "encoding": {"x": {"field": "fl", "type": "quantitative", "scale": {"domain": [0, 4], "nice": false}, "axis": null}, "y": {"field": "count", "type": "quantitative", "scale": {"domain": [0, 200], "nice": false}, "axis": null}}},
 {"width": 137, "height": 58, "data": {"values": [{"serogroup": "C", "strain": "4243"}]}, "layer": [
  {"mark": {"type": "text", "fontSize": 22, "baseline": "alphabetic", "dx": 9.5, "dy": -6.5}, "encoding": {"text": {"field": "serogroup"}}},
  {"mark": {"type": "rule", "strokeWidth": 1.3, "color": "#444"}, "encoding": {"x": {"datum": 0.533, "scale": {"domain": [0, 1]}, "axis": null}, "x2": {"datum": 0.613}, "y": {"datum": 0.543, "scale": {"domain": [0, 1]}, "axis": null}}},
  {"mark": {"type": "text", "fontSize": 22, "baseline": "alphabetic", "dx": 7.5, "dy": 16.5}, "encoding": {"text": {"field": "strain"}}}]},
 {"width": 82, "height": 58, "view": {"stroke": "#999"}, "data": {"name": "a_4243_D1"}, "mark": {"type": "area", "color": "#000", "clip": true}, "encoding": {"x": {"field": "fl", "type": "quantitative", "scale": {"domain": [0, 4], "nice": false}, "axis": null}, "y": {"field": "count", "type": "quantitative", "scale": {"domain": [0, 200], "nice": false}, "axis": {"title": "Counts", "values": [0, 200], "labelAngle": 270, "labelAlign": "center", "labelBaseline": "alphabetic", "labelPadding": 6, "labelFontSize": 12, "titleFontSize": 14, "titleFontWeight": "normal", "titlePadding": 8}}}},
 {"width": 82, "height": 58, "view": {"stroke": "#999"}, "data": {"name": "a_4243_D2"}, "mark": {"type": "area", "color": "#000", "clip": true}, "encoding": {"x": {"field": "fl", "type": "quantitative", "scale": {"domain": [0, 4], "nice": false}, "axis": null}, "y": {"field": "count", "type": "quantitative", "scale": {"domain": [0, 200], "nice": false}, "axis": null}}},
 {"width": 115, "height": 58, "data": {"values": [{"serogroup": "B", "strain": "NMB"}]}, "layer": [
  {"mark": {"type": "text", "fontSize": 22, "baseline": "alphabetic", "dx": -4.5, "dy": -5.5}, "encoding": {"text": {"field": "serogroup"}}},
  {"mark": {"type": "rule", "strokeWidth": 1.3, "color": "#444"}, "encoding": {"x": {"datum": 0.452, "scale": {"domain": [0, 1]}, "axis": null}, "x2": {"datum": 0.53}, "y": {"datum": 0.491, "scale": {"domain": [0, 1]}, "axis": null}}},
  {"mark": {"type": "text", "fontSize": 22, "baseline": "alphabetic", "dx": 0, "dy": 18.5}, "encoding": {"text": {"field": "strain"}}}]},
 {"width": 82, "height": 58, "view": {"stroke": "#999"}, "data": {"name": "a_NMB_D1"}, "mark": {"type": "area", "color": "#000", "clip": true}, "encoding": {"x": {"field": "fl", "type": "quantitative", "scale": {"domain": [0, 4], "nice": false}, "axis": null}, "y": {"field": "count", "type": "quantitative", "scale": {"domain": [0, 200], "nice": false}, "axis": {"title": "Counts", "values": [0, 200], "labelAngle": 270, "labelAlign": "center", "labelBaseline": "alphabetic", "labelPadding": 6, "labelFontSize": 12, "titleFontSize": 14, "titleFontWeight": "normal", "titlePadding": 8}}}},
 {"width": 82, "height": 58, "view": {"stroke": "#999"}, "data": {"name": "a_NMB_D2"}, "mark": {"type": "area", "color": "#000", "clip": true}, "encoding": {"x": {"field": "fl", "type": "quantitative", "scale": {"domain": [0, 4], "nice": false}, "axis": null}, "y": {"field": "count", "type": "quantitative", "scale": {"domain": [0, 200], "nice": false}, "axis": null}}},
 {"width": 137, "height": 58, "data": {"values": [{"serogroup": "Y", "strain": "860800"}]}, "layer": [
  {"mark": {"type": "text", "fontSize": 22, "baseline": "alphabetic", "dx": 8.5, "dy": -6.5}, "encoding": {"text": {"field": "serogroup"}}},
  {"mark": {"type": "rule", "strokeWidth": 1.3, "color": "#444"}, "encoding": {"x": {"datum": 0.529, "scale": {"domain": [0, 1]}, "axis": null}, "x2": {"datum": 0.599}, "y": {"datum": 0.56, "scale": {"domain": [0, 1]}, "axis": null}}},
  {"mark": {"type": "text", "fontSize": 22, "baseline": "alphabetic", "dx": 4.5, "dy": 16.5}, "encoding": {"text": {"field": "strain"}}}]},
 {"width": 82, "height": 58, "view": {"stroke": "#999"}, "data": {"name": "a_860800_D1"}, "mark": {"type": "area", "color": "#000", "clip": true}, "encoding": {"x": {"field": "fl", "type": "quantitative", "scale": {"domain": [0, 4], "nice": false}, "axis": null}, "y": {"field": "count", "type": "quantitative", "scale": {"domain": [0, 200], "nice": false}, "axis": {"title": "Counts", "values": [0, 200], "labelAngle": 270, "labelAlign": "center", "labelBaseline": "alphabetic", "labelPadding": 6, "labelFontSize": 12, "titleFontSize": 14, "titleFontWeight": "normal", "titlePadding": 8}}}},
 {"width": 82, "height": 58, "view": {"stroke": "#999"}, "data": {"name": "a_860800_D2"}, "mark": {"type": "area", "color": "#000", "clip": true}, "encoding": {"x": {"field": "fl", "type": "quantitative", "scale": {"domain": [0, 4], "nice": false}, "axis": null}, "y": {"field": "count", "type": "quantitative", "scale": {"domain": [0, 200], "nice": false}, "axis": null}}},
 {"width": 115, "height": 58, "data": {"values": [{"serogroup": "A", "strain": "Z1092"}]}, "layer": [
  {"mark": {"type": "text", "fontSize": 22, "baseline": "alphabetic", "dx": 3.5, "dy": 0.5}, "encoding": {"text": {"field": "serogroup"}}},
  {"mark": {"type": "rule", "strokeWidth": 1.3, "color": "#444"}, "encoding": {"x": {"datum": 0.491, "scale": {"domain": [0, 1]}, "axis": null}, "x2": {"datum": 0.578}, "y": {"datum": 0.422, "scale": {"domain": [0, 1]}, "axis": null}}},
  {"mark": {"type": "text", "fontSize": 22, "baseline": "alphabetic", "dx": 2, "dy": 24.5}, "encoding": {"text": {"field": "strain"}}}]},
 {"width": 82, "height": 58, "view": {"stroke": "#999"}, "data": {"name": "a_Z1092_D1"}, "mark": {"type": "area", "color": "#000", "clip": true}, "encoding": {"x": {"field": "fl", "type": "quantitative", "scale": {"domain": [0, 4], "nice": false}, "axis": {"title": null, "values": [0, 4], "labelExpr": "'10' + ['⁰','¹','²','³','⁴'][datum.value]", "labelFlush": false, "labelOverlap": false, "labelPadding": 4, "labelFontSize": 13}}, "y": {"field": "count", "type": "quantitative", "scale": {"domain": [0, 200], "nice": false}, "axis": {"title": "Counts", "values": [0, 200], "labelAngle": 270, "labelAlign": "center", "labelBaseline": "alphabetic", "labelPadding": 6, "labelFontSize": 12, "titleFontSize": 14, "titleFontWeight": "normal", "titlePadding": 8}}}},
 {"width": 82, "height": 58, "view": {"stroke": "#999"}, "data": {"name": "a_Z1092_D2"}, "mark": {"type": "area", "color": "#000", "clip": true}, "encoding": {"x": {"field": "fl", "type": "quantitative", "scale": {"domain": [0, 4], "nice": false}, "axis": {"title": null, "values": [0, 4], "labelExpr": "'10' + ['⁰','¹','²','³','⁴'][datum.value]", "labelFlush": false, "labelOverlap": false, "labelPadding": 4, "labelFontSize": 13}}, "y": {"field": "count", "type": "quantitative", "scale": {"domain": [0, 200], "nice": false}, "axis": null}}},
 {"width": 137, "height": 58, "data": {"values": [{"serogroup": "X", "strain": "Ug13/07"}]}, "layer": [
  {"mark": {"type": "text", "fontSize": 22, "baseline": "alphabetic", "dx": 6.5, "dy": 0.5}, "encoding": {"text": {"field": "serogroup"}}},
  {"mark": {"type": "rule", "strokeWidth": 1.3, "color": "#444"}, "encoding": {"x": {"datum": 0.507, "scale": {"domain": [0, 1]}, "axis": null}, "x2": {"datum": 0.58}, "y": {"datum": 0.414, "scale": {"domain": [0, 1]}, "axis": null}}},
  {"mark": {"type": "text", "fontSize": 22, "baseline": "alphabetic", "dx": 10, "dy": 23.5}, "encoding": {"text": {"field": "strain"}}}]},
 {"width": 82, "height": 58, "view": {"stroke": "#999"}, "data": {"name": "a_Ug13_D1"}, "mark": {"type": "area", "color": "#000", "clip": true}, "encoding": {"x": {"field": "fl", "type": "quantitative", "scale": {"domain": [0, 4], "nice": false}, "axis": {"title": null, "values": [0, 4], "labelExpr": "'10' + ['⁰','¹','²','³','⁴'][datum.value]", "labelFlush": false, "labelOverlap": false, "labelPadding": 4, "labelFontSize": 13}}, "y": {"field": "count", "type": "quantitative", "scale": {"domain": [0, 200], "nice": false}, "axis": {"title": "Counts", "values": [0, 200], "labelAngle": 270, "labelAlign": "center", "labelBaseline": "alphabetic", "labelPadding": 6, "labelFontSize": 12, "titleFontSize": 14, "titleFontWeight": "normal", "titlePadding": 8}}}},
 {"width": 82, "height": 58, "view": {"stroke": "#999"}, "data": {"name": "a_Ug13_D2"}, "mark": {"type": "area", "color": "#000", "clip": true}, "encoding": {"x": {"field": "fl", "type": "quantitative", "scale": {"domain": [0, 4], "nice": false}, "axis": {"title": null, "values": [0, 4], "labelExpr": "'10' + ['⁰','¹','²','³','⁴'][datum.value]", "labelFlush": false, "labelOverlap": false, "labelPadding": 4, "labelFontSize": 13}}, "y": {"field": "count", "type": "quantitative", "scale": {"domain": [0, 200], "nice": false}, "axis": null}}}
]},
{"spacing": 0, "bounds": "flush", "hconcat": [
 {"width": 165, "height": 37, "mark": "text", "encoding": {"text": {"value": ""}}},
 {"width": 177, "height": 37, "data": {"values": [{"label": "Fluorescence"}]}, "layer": [{"mark": {"type": "text", "fontSize": 27, "fontWeight": "bold", "baseline": "alphabetic", "dy": 13.5}, "encoding": {"text": {"field": "label"}}}, {"mark": {"type": "rule", "strokeWidth": 2}, "encoding": {"y": {"value": "height"}}}]},
 {"width": 238, "height": 37, "mark": "text", "encoding": {"text": {"value": ""}}},
 {"width": 179, "height": 37, "data": {"values": [{"label": "Fluorescence"}]}, "layer": [{"mark": {"type": "text", "fontSize": 27, "fontWeight": "bold", "baseline": "alphabetic", "dy": 13.5}, "encoding": {"text": {"field": "label"}}}, {"mark": {"type": "rule", "strokeWidth": 2}, "encoding": {"y": {"value": "height"}}}]}
]},
{"width": 62, "height": 80, "data": {"values": [{"label": "b."}]}, "mark": {"type": "text", "fontSize": 46, "fontWeight": "bold", "baseline": "alphabetic", "dy": 32}, "encoding": {"text": {"field": "label"}}},
{"spacing": 0, "bounds": "flush", "hconcat": [
 {"width": 162, "height": 43, "mark": "text", "encoding": {"text": {"value": ""}}},
 {"width": 98, "height": 43, "data": {"values": [{"label": "NmA"}]}, "layer": [{"mark": {"type": "text", "fontSize": 22, "baseline": "alphabetic", "dy": 15.5}, "encoding": {"text": {"field": "label"}}}, {"mark": {"type": "rule", "strokeWidth": 1.3}, "encoding": {"y": {"value": "height"}}}]},
 {"width": 50, "height": 43, "mark": "text", "encoding": {"text": {"value": ""}}},
 {"width": 107, "height": 43, "data": {"values": [{"label": "NmW135"}]}, "layer": [{"mark": {"type": "text", "fontSize": 22, "baseline": "alphabetic", "dy": 15.5}, "encoding": {"text": {"field": "label"}}}, {"mark": {"type": "rule", "strokeWidth": 1.3}, "encoding": {"y": {"value": "height"}}}]},
 {"width": 45, "height": 43, "mark": "text", "encoding": {"text": {"value": ""}}},
 {"width": 256, "height": 43, "data": {"values": [{"label": "NmB"}]}, "layer": [{"mark": {"type": "text", "fontSize": 22, "baseline": "alphabetic", "dy": 15.5}, "encoding": {"text": {"field": "label"}}}, {"mark": {"type": "rule", "strokeWidth": 1.3}, "encoding": {"y": {"value": "height"}}}]}
]},
{"spacing": 0, "bounds": "flush", "hconcat": [
 {"width": 27, "height": 24, "mark": "text", "encoding": {"text": {"value": ""}}},
 {"width": 73, "height": 24, "data": {"values": [{"label": "Culture"}]}, "layer": [{"mark": {"type": "text", "fontSize": 22, "baseline": "alphabetic", "dy": 7}, "encoding": {"text": {"field": "label"}}}, {"mark": {"type": "rule", "strokeWidth": 1.5}, "encoding": {"y": {"value": "height"}}}]},
 {"width": 59, "height": 24, "mark": "text", "encoding": {"text": {"value": ""}}},
 {"width": 104, "height": 24, "data": {"values": [{"label": "Z1092"}]}, "mark": {"type": "text", "fontSize": 22, "baseline": "alphabetic", "dy": 8}, "encoding": {"text": {"field": "label"}}},
 {"width": 48, "height": 24, "mark": "text", "encoding": {"text": {"value": ""}}},
 {"width": 104, "height": 24, "data": {"values": [{"label": "A22"}]}, "mark": {"type": "text", "fontSize": 22, "baseline": "alphabetic", "dy": 8}, "encoding": {"text": {"field": "label"}}},
 {"width": 48, "height": 24, "mark": "text", "encoding": {"text": {"value": ""}}},
 {"width": 104, "height": 24, "data": {"values": [{"label": "MC58"}]}, "mark": {"type": "text", "fontSize": 22, "baseline": "alphabetic", "dy": 8}, "encoding": {"text": {"field": "label"}}},
 {"width": 48, "height": 24, "mark": "text", "encoding": {"text": {"value": ""}}},
 {"width": 104, "height": 24, "data": {"values": [{"label": "NMB"}]}, "mark": {"type": "text", "fontSize": 22, "baseline": "alphabetic", "dy": 8}, "encoding": {"text": {"field": "label"}}}
]},
{"width": 1, "height": 1, "mark": "text", "encoding": {"text": {"value": ""}}},
{"columns": 5, "spacing": {"row": 48, "column": 48}, "bounds": "flush", "align": "each", "concat": [
 {"width": 111, "height": 59, "data": {"values": [{"culture": "1"}]}, "mark": {"type": "text", "fontSize": 20, "baseline": "alphabetic", "dx": 7.5, "dy": 2.5}, "encoding": {"text": {"field": "culture"}}},
 {"width": 104, "height": 59, "view": {"stroke": "#999"}, "data": {"name": "b_Z1092_c1"}, "mark": {"type": "area", "color": "#000", "clip": true}, "encoding": {"x": {"field": "fl", "type": "quantitative", "scale": {"domain": [0, 4], "nice": false}, "axis": null}, "y": {"field": "count", "type": "quantitative", "scale": {"domain": [0, 200], "nice": false}, "axis": {"title": "Counts", "values": [0, 200], "labelAngle": 270, "labelAlign": "center", "labelBaseline": "alphabetic", "labelPadding": 3, "labelFontSize": 12, "titleFontSize": 14, "titleFontWeight": "normal", "titlePadding": 10}}}},
 {"width": 104, "height": 59, "view": {"stroke": "#999"}, "data": {"name": "b_A22_c1"}, "mark": {"type": "area", "color": "#000", "clip": true}, "encoding": {"x": {"field": "fl", "type": "quantitative", "scale": {"domain": [0, 4], "nice": false}, "axis": null}, "y": {"field": "count", "type": "quantitative", "scale": {"domain": [0, 200], "nice": false}, "axis": null}}},
 {"width": 104, "height": 59, "view": {"stroke": "#999"}, "data": {"name": "b_MC58_c1"}, "mark": {"type": "area", "color": "#000", "clip": true}, "encoding": {"x": {"field": "fl", "type": "quantitative", "scale": {"domain": [0, 4], "nice": false}, "axis": null}, "y": {"field": "count", "type": "quantitative", "scale": {"domain": [0, 200], "nice": false}, "axis": null}}},
 {"width": 104, "height": 59, "view": {"stroke": "#999"}, "data": {"name": "b_NMB_c1"}, "mark": {"type": "area", "color": "#000", "clip": true}, "encoding": {"x": {"field": "fl", "type": "quantitative", "scale": {"domain": [0, 4], "nice": false}, "axis": null}, "y": {"field": "count", "type": "quantitative", "scale": {"domain": [0, 200], "nice": false}, "axis": null}}},
 {"width": 111, "height": 59, "data": {"values": [{"culture": "2"}]}, "mark": {"type": "text", "fontSize": 20, "baseline": "alphabetic", "dx": 9.5, "dy": -3.5}, "encoding": {"text": {"field": "culture"}}},
 {"width": 104, "height": 59, "view": {"stroke": "#999"}, "data": {"name": "b_Z1092_c2"}, "mark": {"type": "area", "color": "#000", "clip": true}, "encoding": {"x": {"field": "fl", "type": "quantitative", "scale": {"domain": [0, 4], "nice": false}, "axis": null}, "y": {"field": "count", "type": "quantitative", "scale": {"domain": [0, 200], "nice": false}, "axis": {"title": "Counts", "values": [0, 200], "labelAngle": 270, "labelAlign": "center", "labelBaseline": "alphabetic", "labelPadding": 3, "labelFontSize": 12, "titleFontSize": 14, "titleFontWeight": "normal", "titlePadding": 10}}}},
 {"width": 104, "height": 59, "view": {"stroke": "#999"}, "data": {"name": "b_A22_c2"}, "mark": {"type": "area", "color": "#000", "clip": true}, "encoding": {"x": {"field": "fl", "type": "quantitative", "scale": {"domain": [0, 4], "nice": false}, "axis": null}, "y": {"field": "count", "type": "quantitative", "scale": {"domain": [0, 200], "nice": false}, "axis": null}}},
 {"width": 104, "height": 59, "view": {"stroke": "#999"}, "data": {"name": "b_MC58_c2"}, "mark": {"type": "area", "color": "#000", "clip": true}, "encoding": {"x": {"field": "fl", "type": "quantitative", "scale": {"domain": [0, 4], "nice": false}, "axis": null}, "y": {"field": "count", "type": "quantitative", "scale": {"domain": [0, 200], "nice": false}, "axis": null}}},
 {"width": 104, "height": 59, "view": {"stroke": "#999"}, "data": {"name": "b_NMB_c2"}, "mark": {"type": "area", "color": "#000", "clip": true}, "encoding": {"x": {"field": "fl", "type": "quantitative", "scale": {"domain": [0, 4], "nice": false}, "axis": null}, "y": {"field": "count", "type": "quantitative", "scale": {"domain": [0, 200], "nice": false}, "axis": null}}},
 {"width": 111, "height": 59, "data": {"values": [{"culture": "3"}]}, "mark": {"type": "text", "fontSize": 20, "baseline": "alphabetic", "dx": 12.5, "dy": 10.5}, "encoding": {"text": {"field": "culture"}}},
 {"width": 104, "height": 59, "view": {"stroke": "#999"}, "data": {"name": "b_Z1092_c3"}, "mark": {"type": "area", "color": "#000", "clip": true}, "encoding": {"x": {"field": "fl", "type": "quantitative", "scale": {"domain": [0, 4], "nice": false}, "axis": {"title": null, "values": [0, 1, 2, 3, 4], "labelExpr": "'10' + ['⁰','¹','²','³','⁴'][datum.value]", "labelFlush": false, "labelOverlap": false, "labelPadding": 3, "labelFontSize": 13}}, "y": {"field": "count", "type": "quantitative", "scale": {"domain": [0, 200], "nice": false}, "axis": {"title": "Counts", "values": [0, 200], "labelAngle": 270, "labelAlign": "center", "labelBaseline": "alphabetic", "labelPadding": 3, "labelFontSize": 12, "titleFontSize": 14, "titleFontWeight": "normal", "titlePadding": 10}}}},
 {"width": 104, "height": 59, "view": {"stroke": "#999"}, "data": {"name": "b_A22_c3"}, "mark": {"type": "area", "color": "#000", "clip": true}, "encoding": {"x": {"field": "fl", "type": "quantitative", "scale": {"domain": [0, 4], "nice": false}, "axis": {"title": null, "values": [0, 1, 2, 3, 4], "labelExpr": "'10' + ['⁰','¹','²','³','⁴'][datum.value]", "labelFlush": false, "labelOverlap": false, "labelPadding": 3, "labelFontSize": 13}}, "y": {"field": "count", "type": "quantitative", "scale": {"domain": [0, 200], "nice": false}, "axis": null}}},
 {"width": 104, "height": 59, "view": {"stroke": "#999"}, "data": {"name": "b_MC58_c3"}, "mark": {"type": "area", "color": "#000", "clip": true}, "encoding": {"x": {"field": "fl", "type": "quantitative", "scale": {"domain": [0, 4], "nice": false}, "axis": {"title": null, "values": [0, 1, 2, 3, 4], "labelExpr": "'10' + ['⁰','¹','²','³','⁴'][datum.value]", "labelFlush": false, "labelOverlap": false, "labelPadding": 3, "labelFontSize": 13}}, "y": {"field": "count", "type": "quantitative", "scale": {"domain": [0, 200], "nice": false}, "axis": null}}},
 {"width": 104, "height": 59, "view": {"stroke": "#999"}, "data": {"name": "b_NMB_c3"}, "mark": {"type": "area", "color": "#000", "clip": true}, "encoding": {"x": {"field": "fl", "type": "quantitative", "scale": {"domain": [0, 4], "nice": false}, "axis": {"title": null, "values": [0, 1, 2, 3, 4], "labelExpr": "'10' + ['⁰','¹','²','³','⁴'][datum.value]", "labelFlush": false, "labelOverlap": false, "labelPadding": 3, "labelFontSize": 13}}, "y": {"field": "count", "type": "quantitative", "scale": {"domain": [0, 200], "nice": false}, "axis": null}}}
]},
{"spacing": 0, "bounds": "flush", "hconcat": [
 {"width": 355, "height": 39, "mark": "text", "encoding": {"text": {"value": ""}}},
 {"width": 178, "height": 39, "data": {"values": [{"label": "Fluorescence"}]}, "layer": [{"mark": {"type": "text", "fontSize": 27, "fontWeight": "bold", "baseline": "alphabetic", "dy": 11.5}, "encoding": {"text": {"field": "label"}}}, {"mark": {"type": "rule", "strokeWidth": 2}, "encoding": {"y": {"value": "height"}}}]}
]}
]
}
